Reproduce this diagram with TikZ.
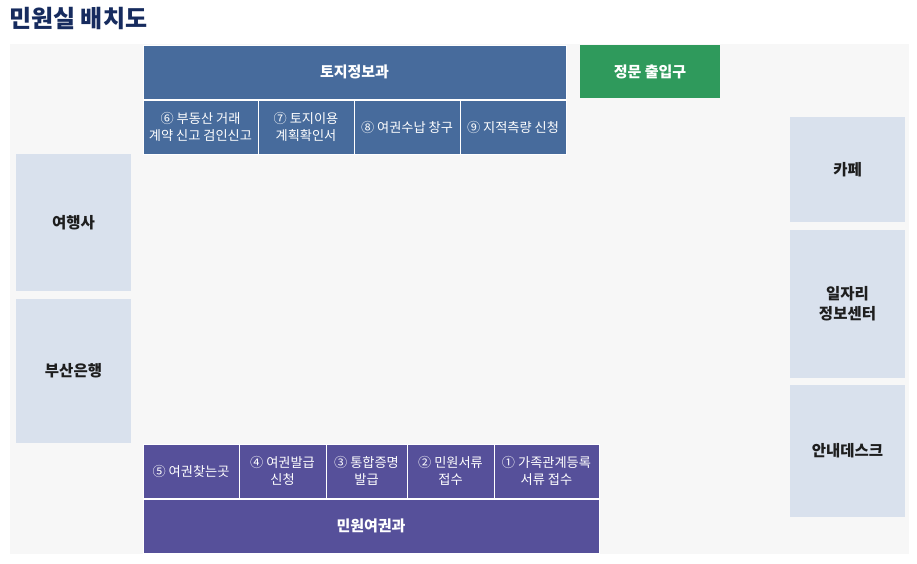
\documentclass[tikz,border=0pt]{standalone}
\usepackage{fontspec}
\setmainfont{Noto Sans CJK KR}
\usepackage{xcolor}
\usepackage{tikz}
\definecolor{floor}{HTML}{F7F7F7}
\definecolor{navy}{HTML}{162B5E}
\definecolor{landblue}{HTML}{476B9C}
\definecolor{civilpurple}{HTML}{56509A}
\definecolor{gate}{HTML}{2F9A5C}
\definecolor{side}{HTML}{D9E1ED}
\definecolor{ink}{HTML}{1E1E1E}
\tikzset{
  room/.style={draw=white, line width=1pt, inner sep=0pt, align=center},
  dept/.style={room, text=white, font=\fontsize{15}{18}\selectfont\bfseries},
  desk/.style={room, text=white, font=\fontsize{13.2}{17.5}\selectfont},
  shop/.style={inner sep=0pt, align=center, fill=side, text=ink,
    font=\fontsize{15.5}{20}\selectfont\bfseries},
}
\begin{document}
\begin{tikzpicture}[x=1pt,y=-1pt]
  \useasboundingbox (0,0) rectangle (917,563);
  \fill[floor] (10,44) rectangle (909,554);

  \node[anchor=base west, text=navy, font=\fontsize{24}{28}\selectfont\bfseries, inner sep=0pt]
    (title) at (9,27) {민원실 배치도};

  % top: land information
  \node[dept, fill=landblue, minimum width=423pt, minimum height=54pt] (land) at (354.5,72) {토지정보과};
  \foreach \x/\w/\txt [count=\i] in {
      200.5/115/{⑥ 부동산 거래\\계약 신고 검인신고},
      306/96/{⑦ 토지이용\\계획확인서},
      407/106/{⑧ 여권수납 창구},
      513/106/{⑨ 지적측량 신청}}{
    \node[desk, fill=landblue, minimum width=\w pt, minimum height=54pt] (land\i) at (\x,127) {\txt};
  }

  \node[dept, fill=gate, draw=none, minimum width=140pt, minimum height=53pt] (gate) at (650,71.5) {정문 출입구};

  % left side
  \node[shop, minimum width=115pt, minimum height=137pt] (travel) at (73.5,222.5) {여행사};
  \node[shop, minimum width=115pt, minimum height=144pt] (bank) at (73.5,371) {부산은행};

  % right side
  \node[shop, minimum width=115pt, minimum height=105pt] (cafe) at (847.5,169.5) {카페};
  \node[shop, minimum width=115pt, minimum height=148pt] (jobs) at (847.5,304) {일자리\\정보센터};
  \node[shop, minimum width=115pt, minimum height=132pt] (info) at (847.5,451) {안내데스크};

  % bottom: civil service and passports
  \foreach \x/\w/\txt [count=\i] in {
      546.5/105/{① 가족관계등록\\서류 접수},
      450.5/87/{② 민원서류\\접수},
      366.5/81/{③ 통합증명\\발급},
      282.5/87/{④ 여권발급\\신청},
      191/96/{⑤ 여권찾는곳}}{
    \node[desk, fill=civilpurple, minimum width=\w pt, minimum height=54pt] (civil\i) at (\x,471) {\txt};
  }
  \node[dept, fill=civilpurple, minimum width=456pt, minimum height=54pt] (civil) at (371,526) {민원여권과};
\end{tikzpicture}
\end{document}
